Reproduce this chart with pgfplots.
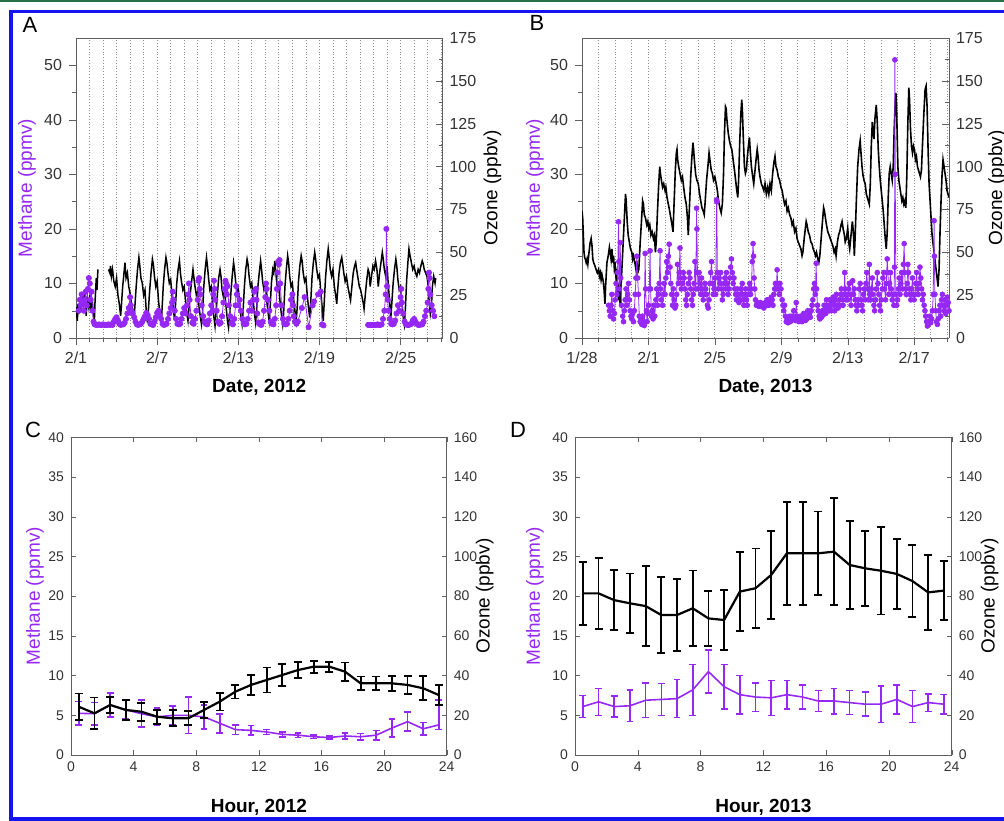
\documentclass[border=0pt]{standalone}
\usepackage{fontspec}
\setmainfont{Liberation Sans}
\usepackage{pgfplots}
\pgfplotsset{compat=1.18}
\definecolor{meth}{RGB}{150,40,245}
\definecolor{axgray}{RGB}{95,95,95}
\definecolor{framegreen}{RGB}{40,110,70}
\definecolor{frameblue}{RGB}{20,20,240}

\pgfplotsset{
  every axis/.append style={
    /pgf/number format/assume math mode=true,
    scale only axis,
    axis line style={axgray},
    tick style={axgray},
  },
  timeaxis/.style={
    width=183.25pt, height=150pt,
    tick label style={font=\fontsize{8}{9}\selectfont, black!80},
    label style={font=\fontsize{9.5}{11}\selectfont},
    unbounded coords=jump,
  },
  houraxis/.style={
    width=188pt, height=158.85pt,
    xmin=0, xmax=24,
    tick align=inside,
    major tick length=2.5pt,
    tick label style={font=\fontsize{7}{8}\selectfont, black!80},
    label style={font=\fontsize{9.5}{11}\selectfont},
  },
}

\begin{document}
\begin{tikzpicture}
\path[use as bounding box] (0pt,0pt) rectangle (502pt,-410pt);
\fill[framegreen] (0pt,0pt) rectangle (502pt,-1.1pt);
\draw[frameblue, line width=1.8pt] (5.5pt,-5.8pt) rectangle (510pt,-409.6pt);

% ---------------- panel A ----------------
\begin{axis}[timeaxis, at={(38pt,-169pt)}, anchor=south west,
  xmin=0, xmax=27.1, ymin=0, ymax=55,
  axis y line*=left, xtick pos=left, tick align=outside,
  major tick length=3.5pt, minor tick length=2pt,
  ytick={0,10,...,50}, minor ytick={5,15,...,45},
  xtick={0,6,12,18,24}, xticklabels={2/1,2/7,2/13,2/19,2/25},
  minor xtick={1,...,27},
  xmajorgrids, xminorgrids,
  grid style={densely dotted, black!45}, minor grid style={densely dotted, black!45},
  ylabel={\color{meth}Methane (ppmv)},
  ylabel style={at={(axis description cs:-0.1337,0.5)}, anchor=center},
  xlabel={\textbf{Date, 2012}},
  xlabel style={at={(axis description cs:0.5,-0.1633)}, anchor=center},
]
\end{axis}
\begin{axis}[timeaxis, at={(38pt,-169pt)}, anchor=south west,
  xmin=0, xmax=27.1, ymin=0, ymax=175,
  axis y line*=right, axis x line=none, tick align=inside,
  major tick length=3.5pt, minor tick length=2pt,
  ytick={0,25,...,175}, minor ytick={12.5,37.5,...,162.5},
  ylabel={Ozone (ppbv)},
  ylabel style={at={(axis description cs:1.1364,0.5)}, anchor=center},
]
\addplot[black, line width=0.75pt] coordinates {
(0,12) (0.05,18) (0.1,10) (0.15,20) (0.2,14) (0.3,22) (0.35,16) (0.45,25) (0.5,18) (0.6,27) (0.7,20) (0.75,13) (0.85,24) (0.95,18) (1.05,26) (1.1,15) (1.2,22) (1.3,12) (1.35,8) (1.4,20) (1.5,35) (1.55,28) (1.62,40) (1.7,nan)
(2.4,40) (2.5,38) (2.55,42) (2.62,36) (2.7,40) (2.8,33) (2.9,30) (3.0,35) (3.1,25) (3.2,20) (3.3,13) (3.35,18)
(3.45,30) (3.55,38) (3.62,44) (3.7,35) (3.8,38) (3.9,30) (4.0,26) (4.1,20) (4.2,15) (4.28,10) (4.35,18)
(4.45,30) (4.55,40) (4.65,47) (4.72,42) (4.8,35) (4.9,32) (5.0,25) (5.1,28) (5.2,15) (5.28,9) (5.35,16)
(5.45,28) (5.55,38) (5.65,46) (5.72,43) (5.8,36) (5.9,30) (6.0,33) (6.1,22) (6.2,14) (6.28,8) (6.35,15)
(6.45,30) (6.55,40) (6.65,47) (6.72,44) (6.8,38) (6.9,32) (7.0,34) (7.1,25) (7.2,17) (7.28,11) (7.35,18)
(7.45,32) (7.55,40) (7.65,45) (7.72,38) (7.8,33) (7.9,28) (8.0,30) (8.1,22) (8.2,14) (8.28,10) (8.35,17)
(8.45,26) (8.55,33) (8.65,40) (8.72,35) (8.8,30) (8.9,25) (9.0,27) (9.1,18) (9.2,12) (9.28,8) (9.35,14)
(9.45,30) (9.55,40) (9.65,47) (9.72,42) (9.8,35) (9.9,28) (10.0,30) (10.1,20) (10.2,12) (10.28,7) (10.35,14)
(10.45,25) (10.55,35) (10.65,40) (10.72,36) (10.8,28) (10.9,24) (11.0,27) (11.1,18) (11.2,10) (11.28,6) (11.35,12)
(11.45,26) (11.55,36) (11.65,44) (11.72,40) (11.8,33) (11.9,27) (12.0,29) (12.1,20) (12.2,12) (12.28,8) (12.35,15)
(12.45,30) (12.55,40) (12.65,46) (12.72,43) (12.8,36) (12.9,30) (13.0,32) (13.1,22) (13.2,14) (13.28,9) (13.35,16)
(13.45,30) (13.55,38) (13.65,45) (13.72,40) (13.8,33) (13.9,28) (14.0,31) (14.1,22) (14.2,15) (14.28,10) (14.35,17)
(14.45,32) (14.55,40) (14.62,38) (14.7,45) (14.8,36) (14.9,28) (15.0,30) (15.1,20) (15.2,13) (15.28,8) (15.35,14)
(15.45,30) (15.55,40) (15.65,48) (15.72,44) (15.8,36) (15.9,30) (16.0,32) (16.1,22) (16.2,15) (16.28,10) (16.35,17)
(16.45,33) (16.55,42) (16.65,48) (16.72,45) (16.8,38) (16.9,33) (17.0,35) (17.1,25) (17.2,17) (17.28,12) (17.35,20)
(17.45,35) (17.55,44) (17.65,50) (17.72,46) (17.8,40) (17.9,35) (18.0,37) (18.1,27) (18.2,18) (18.28,10) (18.35,20)
(18.45,35) (18.55,45) (18.65,52) (18.72,47) (18.8,40) (18.9,36) (19.0,40) (19.1,30) (19.2,25) (19.28,20) (19.35,28)
(19.45,38) (19.55,44) (19.65,47) (19.72,43) (19.8,38) (19.9,33) (20.0,36) (20.1,30) (20.2,26) (20.3,22) (20.4,30)
(20.5,38) (20.6,42) (20.68,44) (20.75,40) (20.85,35) (20.95,30) (21.05,28) (21.15,24) (21.25,20) (21.3,17) (21.4,26)
(21.5,34) (21.6,40) (21.68,38) (21.75,30) (21.85,36) (21.95,42) (22.05,40) (22.15,45) (22.25,40) (22.35,30) (22.45,38)
(22.55,44) (22.65,50) (22.72,46) (22.8,40) (22.9,36) (23.0,42) (23.1,30) (23.2,20) (23.28,12) (23.35,20)
(23.45,32) (23.55,40) (23.65,46) (23.72,42) (23.8,34) (23.9,28) (24.0,30) (24.1,20) (24.2,12) (24.28,8) (24.35,16)
(24.45,34) (24.55,45) (24.62,52) (24.7,48) (24.8,44) (24.9,40) (25.0,42) (25.1,38) (25.2,36) (25.3,40) (25.4,38) (25.5,42) (25.6,45) (25.68,43) (25.75,40) (25.85,38) (25.95,36) (26.05,30) (26.12,20) (26.2,14) (26.28,18) (26.35,30) (26.45,36) (26.55,32) (26.6,35)
};
\end{axis}
\begin{axis}[timeaxis, at={(38pt,-169pt)}, anchor=south west,
  xmin=0, xmax=27.1, ymin=0, ymax=55, hide axis]
\addplot[meth, line width=0.4pt, mark=*, mark size=1.3pt, mark options={fill=meth, draw=meth}] coordinates {
(0.2,5) (0.28,7) (0.35,6) (0.42,8) (0.5,6.5) (0.58,5) (0.65,7) (0.72,8.5) (0.8,6) (0.88,9) (0.95,11) (1.02,10) (1.08,7) (1.15,8.5) (1.22,5) (1.3,3) (1.38,2.5) (1.48,2.4) (1.6,2.4) (1.7,2.5) (1.8,2.4) (1.9,2.4) (2.0,2.5) (2.1,2.4) (2.2,2.4)
(2.3,2.4) (2.4,2.5) (2.5,2.4) (2.6,2.5) (2.7,2.4) (2.8,3.0) (2.9,3.5) (3.0,3.8) (3.1,3.2) (3.2,2.6) (3.3,2.4) (3.4,2.5) (3.5,2.5) (3.6,2.8) (3.7,3.5) (3.8,4.5) (3.9,5.5) (4.0,7.5) (4.05,6) (4.1,5) (4.2,4.5) (4.3,3.8) (4.4,3) (4.5,2.5) (4.6,2.4) (4.7,2.5) (4.8,2.6) (4.9,3) (5.0,3.5) (5.1,4) (5.2,4.6) (5.3,4.2) (5.4,3.5) (5.5,2.6) (5.6,2.5) (5.7,2.4) (5.8,3) (5.9,3.8) (6.0,4.6) (6.1,5) (6.2,4.2) (6.3,3.5) (6.4,2.6) (6.5,2.4) (6.6,2.5) (6.7,2.6) (6.8,3.5) (6.9,4.5) (7.0,5.5) (7.1,6.5) (7.15,8.5) (7.2,7) (7.3,5) (7.4,3.5) (7.5,2.6) (7.6,2.5) (7.7,2.6) (7.8,3.5) (7.9,4.5) (8.0,5.5) (8.1,4.5) (8.2,6) (8.3,8) (8.35,10) (8.4,7) (8.5,4) (8.6,2.8) (8.7,2.6) (8.8,3.5) (8.9,5) (9.0,7) (9.05,10.5) (9.1,11) (9.15,9) (9.2,8) (9.3,6) (9.4,4) (9.5,3) (9.6,2.6) (9.7,2.5) (9.8,3.2) (9.9,4.5) (10.0,6) (10.1,5) (10.15,8) (10.2,10.5) (10.25,9) (10.3,7) (10.4,5) (10.5,3) (10.6,2.6) (10.7,2.8) (10.8,4) (10.9,6.5) (11.0,9) (11.05,10.5) (11.1,10) (11.15,8) (11.2,9.5) (11.3,6) (11.4,4) (11.5,2.8) (11.6,2.5) (11.7,3.5) (11.8,6) (11.85,9.5) (11.9,8) (12.0,6) (12.1,7) (12.2,5) (12.3,3.5) (12.4,2.7) (12.5,2.5) (12.6,2.6) (12.7,3.5) (12.8,5) (12.9,6.5) (13.0,5) (13.1,7) (13.2,8.5) (13.3,9) (13.35,7) (13.4,4.5) (13.5,2.8) (13.6,2.5) (13.7,2.4) (13.8,3) (13.9,5) (14.0,7.5) (14.05,10) (14.1,9) (14.2,7) (14.3,5) (14.4,3) (14.5,2.6) (14.6,2.5) (14.7,3.5) (14.8,6) (14.85,9) (14.9,12) (14.95,14) (15.0,13.5) (15.05,14.3) (15.1,10) (15.2,6) (15.3,3.5) (15.4,2.6) (15.5,2.5) (15.6,2.6) (15.7,3.5) (15.8,5) (15.9,7) (16.0,8) (16.05,6) (16.1,4) (16.2,3) (16.3,2.6) (16.4,3)
(16.7,5.5) (16.9,7.5) (17.2,2.0) (17.5,6) (17.6,6.7) (17.9,8) (18.1,8.5) (18.2,2.5) (18.3,2.3) (19.0,nan)
(21.6,2.4) (21.7,2.4) (21.8,2.4) (21.9,2.4) (22.0,2.4) (22.1,2.4) (22.2,2.4) (22.3,2.5) (22.4,2.4) (22.5,2.4) (22.6,2.5) (22.7,3.5) (22.8,5) (22.9,8) (22.95,20) (23.0,9.5) (23.05,7) (23.1,5) (23.2,3.5) (23.3,2.6) (23.4,2.5) (23.5,2.6) (23.6,3.2) (23.7,4.5) (23.8,6) (23.9,5) (24.0,7.5) (24.05,9) (24.1,6.5) (24.2,4.5) (24.3,3) (24.4,2.5) (24.5,2.4) (24.6,2.4) (24.7,2.5) (24.8,2.6) (24.9,3.2) (25.0,3.5) (25.1,3) (25.2,2.6) (25.3,2.4) (25.4,2.4) (25.5,2.5) (25.6,2.5) (25.7,3) (25.8,4) (25.9,5) (26.0,6.5) (26.05,9) (26.1,12) (26.15,11) (26.2,8) (26.3,6) (26.4,5) (26.5,4)
};
\end{axis}

% ---------------- panel B ----------------
\begin{axis}[timeaxis, at={(291pt,-169pt)}, anchor=south west, width=183.5pt,
  xmin=0, xmax=22.1, ymin=0, ymax=55,
  axis y line*=left, xtick pos=left, tick align=outside,
  major tick length=3.5pt, minor tick length=2pt,
  ytick={0,10,...,50}, minor ytick={5,15,...,45},
  xtick={0,4,...,20}, xticklabels={1/28,2/1,2/5,2/9,2/13,2/17},
  minor xtick={1,...,22},
  xmajorgrids, xminorgrids,
  grid style={densely dotted, black!45}, minor grid style={densely dotted, black!45},
  ylabel={\color{meth}Methane (ppmv)},
  ylabel style={at={(axis description cs:-0.128,0.5)}, anchor=center},
  xlabel={\textbf{Date, 2013}},
  xlabel style={at={(axis description cs:0.5,-0.1633)}, anchor=center},
]
\end{axis}
\begin{axis}[timeaxis, at={(291pt,-169pt)}, anchor=south west, width=183.5pt,
  xmin=0, xmax=22.1, ymin=0, ymax=175,
  axis y line*=right, axis x line=none, tick align=inside,
  major tick length=3.5pt, minor tick length=2pt,
  ytick={0,25,...,175}, minor ytick={12.5,37.5,...,162.5},
  ylabel={Ozone (ppbv)},
  ylabel style={at={(axis description cs:1.131,0.5)}, anchor=center},
]
\addplot[black, line width=0.8pt] coordinates {
(0.00,74) (0.04,70) (0.08,60) (0.12,50) (0.16,47) (0.2,46) (0.25,44) (0.3,46) (0.35,43) (0.4,48) (0.48,55) (0.55,58) (0.6,54) (0.65,46) (0.7,44) (0.78,42) (0.85,40) (0.92,38) (1.0,40) (1.05,36) (1.1,38) (1.15,34) (1.2,37) (1.28,33) (1.33,28) (1.38,20) (1.42,30) (1.5,44) (1.58,48) (1.65,53) (1.7,50) (1.75,46) (1.8,52) (1.85,44) (1.9,48) (1.95,40) (2.0,42) (2.05,35) (2.1,38) (2.15,28) (2.2,22) (2.25,32) (2.3,18) (2.35,30) (2.45,50) (2.55,70) (2.62,84) (2.66,80) (2.72,68) (2.78,60) (2.85,56) (2.92,52) (3.0,50) (3.05,46) (3.1,48) (3.18,44) (3.25,40) (3.3,45) (3.35,38) (3.42,40) (3.5,55) (3.58,68) (3.65,80) (3.7,78) (3.75,72) (3.82,70) (3.9,66) (3.96,68) (4.02,64) (4.08,66) (4.15,60) (4.22,62) (4.3,58) (4.36,60) (4.42,50) (4.47,56) (4.55,75) (4.62,90) (4.68,100) (4.72,96) (4.78,92) (4.85,88) (4.92,90) (5.0,86) (5.05,88) (5.12,82) (5.2,78) (5.28,74) (5.35,70) (5.42,66) (5.48,62) (5.55,80) (5.62,98) (5.68,108) (5.72,110) (5.76,104) (5.82,100) (5.9,96) (5.98,92) (6.05,94) (6.12,88) (6.2,82) (6.28,78) (6.35,70) (6.4,60) (6.45,72) (6.55,95) (6.62,106) (6.68,114) (6.72,110) (6.78,102) (6.85,95) (6.92,92) (7.0,90) (7.08,84) (7.15,80) (7.22,76) (7.3,74) (7.36,72) (7.42,80) (7.5,92) (7.58,100) (7.65,108) (7.7,104) (7.78,98) (7.85,96) (7.92,92) (8.0,94) (8.08,90) (8.15,86) (8.22,80) (8.3,76) (8.38,73) (8.45,78) (8.52,95) (8.58,120) (8.64,135) (8.68,134) (8.72,128) (8.8,120) (8.88,115) (8.95,112) (9.02,110) (9.1,104) (9.18,98) (9.25,92) (9.32,86) (9.38,82) (9.43,92) (9.5,115) (9.56,130) (9.62,139) (9.66,132) (9.72,115) (9.78,100) (9.84,96) (9.9,98) (9.95,105) (10.02,112) (10.08,117) (10.14,108) (10.2,100) (10.28,94) (10.34,90) (10.4,96) (10.48,104) (10.55,110) (10.6,106) (10.66,98) (10.72,94) (10.8,90) (10.88,88) (10.95,86) (11.02,90) (11.1,84) (11.18,88) (11.25,84) (11.32,90) (11.4,86) (11.48,96) (11.55,102) (11.62,106) (11.68,100) (11.75,98) (11.82,94) (11.9,92) (11.98,88) (12.05,86) (12.12,82) (12.2,78) (12.28,80) (12.35,74) (12.42,76) (12.5,72) (12.58,70) (12.65,66) (12.72,68) (12.8,62) (12.88,64) (12.95,58) (13.02,56) (13.1,54) (13.18,52) (13.25,48) (13.3,50) (13.38,58) (13.45,64) (13.5,68) (13.55,66) (13.62,62) (13.7,60) (13.78,56) (13.85,55) (13.92,52) (14.0,50) (14.06,48) (14.12,50) (14.2,46) (14.26,44) (14.32,48) (14.4,58) (14.48,68) (14.55,76) (14.6,74) (14.66,70) (14.72,66) (14.8,62) (14.88,60) (14.95,58) (15.02,56) (15.1,54) (15.18,50) (15.25,52) (15.3,48) (15.38,56) (15.45,60) (15.52,62) (15.6,66) (15.66,68) (15.72,64) (15.8,60) (15.85,56) (15.92,58) (16.0,64) (16.06,56) (16.12,52) (16.2,60) (16.28,68) (16.34,62) (16.4,48) (16.45,60) (16.52,80) (16.6,100) (16.68,110) (16.75,115) (16.8,108) (16.86,100) (16.92,95) (16.98,92) (17.05,90) (17.12,84) (17.18,82) (17.24,80) (17.3,78) (17.36,90) (17.42,112) (17.48,126) (17.52,122) (17.58,116) (17.64,128) (17.72,136) (17.78,126) (17.84,110) (17.9,100) (17.96,92) (18.02,86) (18.08,80) (18.14,74) (18.2,66) (18.26,58) (18.32,52) (18.38,62) (18.44,82) (18.5,96) (18.56,100) (18.62,96) (18.68,92) (18.74,100) (18.8,122) (18.86,138) (18.9,143) (18.94,136) (18.98,118) (19.02,100) (19.08,92) (19.14,88) (19.2,84) (19.26,80) (19.32,82) (19.38,78) (19.44,80) (19.5,76) (19.56,95) (19.62,125) (19.68,146) (19.72,140) (19.78,122) (19.84,112) (19.9,108) (19.96,112) (20.02,110) (20.08,104) (20.14,106) (20.2,100) (20.26,98) (20.32,96) (20.38,94) (20.44,98) (20.5,112) (20.58,130) (20.66,145) (20.72,147) (20.78,135) (20.84,110) (20.9,90) (20.96,80) (21.02,70) (21.08,60) (21.14,55) (21.2,50) (21.26,45) (21.32,40) (21.38,35) (21.44,30) (21.5,40) (21.56,62) (21.62,80) (21.68,95) (21.74,104) (21.8,100) (21.86,96) (21.92,92) (21.98,86) (22.04,84) (22.1,82)
};
\end{axis}
\begin{axis}[timeaxis, at={(291pt,-169pt)}, anchor=south west, width=183.5pt,
  xmin=0, xmax=22.1, ymin=0, ymax=55, hide axis]
\addplot[meth, line width=0.4pt, mark=*, mark size=1.2pt, mark options={fill=meth, draw=meth}] coordinates {
(1.6,6) (1.65,5) (1.7,4) (1.75,6) (1.8,8) (1.85,5) (1.9,3.5) (1.95,4.5) (2.0,7) (2.05,10) (2.1,8) (2.15,12) (2.2,21.3) (2.22,14) (2.25,9) (2.3,17.5) (2.33,11) (2.38,6) (2.45,4) (2.5,3) (2.55,5) (2.6,7) (2.65,9) (2.7,6) (2.75,8) (2.8,10) (2.85,7) (2.9,5) (2.95,4) (3.0,3.5) (3.05,4.5) (3.1,3) (3.15,5) (3.2,8) (3.25,11) (3.3,15) (3.35,11) (3.4,8) (3.45,4) (3.5,3) (3.55,3.5) (3.6,2.5) (3.65,4) (3.7,3) (3.75,2.3) (3.8,15.5) (3.83,9) (3.88,5) (3.92,3) (3.96,4.5) (4.0,6) (4.05,9) (4.1,16) (4.13,9) (4.18,4) (4.22,5) (4.28,3.5) (4.32,6) (4.38,4) (4.45,7) (4.5,9) (4.55,6) (4.6,8) (4.65,10) (4.7,16) (4.73,9) (4.78,7) (4.85,6) (4.9,8) (4.95,10) (5.0,8) (5.05,11) (5.1,14) (5.15,12) (5.2,15) (5.25,17.2) (5.3,13) (5.35,10) (5.4,8) (5.45,6) (5.5,9) (5.55,7) (5.6,5.5) (5.65,6) (5.7,8) (5.75,13.5) (5.8,10) (5.85,12) (5.9,16.5) (5.93,11) (5.98,9) (6.05,10) (6.1,12) (6.15,11) (6.2,9) (6.25,7) (6.3,6) (6.35,8) (6.4,10) (6.45,12) (6.5,11) (6.55,9) (6.6,7) (6.65,6) (6.7,8) (6.75,10) (6.8,14) (6.85,9) (6.9,23.8) (6.92,20) (6.95,12) (7.0,9) (7.05,12) (7.1,10) (7.15,8) (7.2,11) (7.25,9) (7.3,7) (7.35,8) (7.4,10) (7.45,9) (7.5,8) (7.55,6) (7.6,5.5) (7.65,7) (7.7,10) (7.75,12) (7.8,14) (7.85,10) (7.9,8) (7.95,9) (8.0,11) (8.05,8) (8.1,25.3) (8.12,25) (8.15,12) (8.2,9) (8.25,11) (8.3,10) (8.35,12) (8.4,9) (8.45,7) (8.5,8) (8.55,10) (8.6,11) (8.65,9) (8.7,12) (8.75,10) (8.8,8) (8.85,9) (8.9,11) (8.95,13) (9.0,14.5) (9.05,12) (9.1,10) (9.15,11) (9.2,9) (9.25,8) (9.3,7) (9.35,9) (9.4,8) (9.45,6.5) (9.5,7) (9.55,9) (9.6,8) (9.65,10) (9.7,7) (9.75,6) (9.8,8) (9.85,9) (9.9,7) (9.95,6) (10.0,8) (10.05,9) (10.1,10) (10.15,8) (10.2,9) (10.25,14) (10.3,17.3) (10.33,15) (10.36,11) (10.4,9) (10.45,7) (10.5,6) (10.55,6.5) (10.6,6) (10.65,5.8) (10.7,6) (10.75,6.5) (10.8,5.8) (10.85,6) (10.9,6.2) (10.95,5.5) (11.0,6) (11.05,6.5) (11.1,6) (11.15,7) (11.2,6.5) (11.25,6) (11.3,7) (11.35,6.5) (11.4,7.5) (11.45,7) (11.5,6) (11.55,8) (11.6,9) (11.65,10) (11.7,9) (11.75,12.5) (11.78,10) (11.82,9) (11.88,8) (11.92,10) (11.98,9) (12.05,7) (12.1,6) (12.15,5) (12.2,6) (12.25,4) (12.3,3) (12.35,3.5) (12.4,2.8) (12.45,3.2) (12.5,4) (12.55,3) (12.6,3.5) (12.65,4) (12.7,3.5) (12.75,5) (12.8,3.8) (12.85,3.2) (12.9,6.5) (12.95,4) (13.0,3.5) (13.05,3) (13.1,3.5) (13.15,4) (13.2,3.2) (13.25,3) (13.3,3.5) (13.35,4.5) (13.4,3.8) (13.45,3.2) (13.5,4) (13.55,3.5) (13.6,5) (13.65,4) (13.7,4.5) (13.75,3.8) (13.8,5) (13.85,6) (13.9,7) (13.95,9) (14.0,10) (14.05,8) (14.1,13.7) (14.13,9) (14.18,6) (14.22,5) (14.28,4) (14.32,3.5) (14.38,4.5) (14.42,3.8) (14.48,5) (14.52,4.2) (14.58,6) (14.62,5) (14.68,4.5) (14.72,7) (14.78,5.5) (14.82,6) (14.88,5) (14.92,7) (14.98,6) (15.02,5) (15.08,6.5) (15.12,7.5) (15.18,6) (15.22,5) (15.28,7) (15.32,8) (15.38,6) (15.42,5.5) (15.48,7) (15.52,6) (15.58,8) (15.62,9) (15.68,7) (15.72,6) (15.78,8) (15.82,12) (15.85,9) (15.9,7) (15.95,8) (16.0,7) (16.05,9) (16.1,10) (16.15,8) (16.2,6) (16.25,8) (16.3,10.5) (16.35,8) (16.4,9) (16.45,7) (16.5,6) (16.55,5) (16.6,7) (16.65,6) (16.7,9) (16.75,10) (16.8,7) (16.85,6) (16.9,5) (16.95,8) (17.0,9) (17.05,7) (17.1,10) (17.15,12) (17.2,9) (17.25,7) (17.3,13.5) (17.33,8) (17.38,7) (17.42,9) (17.48,11) (17.52,8) (17.58,6) (17.62,5) (17.68,7) (17.72,9) (17.78,12) (17.82,10) (17.88,8) (17.92,6) (17.98,5) (18.02,7) (18.08,9) (18.12,11) (18.18,12) (18.22,9) (18.28,7) (18.32,10) (18.38,14.5) (18.42,12) (18.48,8) (18.52,10) (18.58,12) (18.62,9) (18.68,7) (18.72,8) (18.78,6) (18.82,13) (18.84,51) (18.86,30) (18.9,8) (18.95,6) (19.0,7) (19.05,9) (19.1,11) (19.15,8) (19.2,10) (19.25,12) (19.3,9) (19.35,13.5) (19.4,17.3) (19.43,12) (19.48,9) (19.52,8) (19.58,10) (19.62,13.5) (19.66,12) (19.7,9) (19.75,8) (19.8,7) (19.85,9) (19.9,11) (19.95,8) (20.0,7) (20.05,8) (20.1,10) (20.15,12) (20.2,9) (20.25,8) (20.3,10) (20.35,13) (20.4,11) (20.45,9) (20.5,7) (20.55,8) (20.6,6) (20.65,5) (20.7,4) (20.75,3) (20.8,2.2) (20.85,2.5) (20.9,3) (20.95,4) (21.0,2.8) (21.05,3.5) (21.1,5) (21.15,8) (21.2,21.5) (21.22,15) (21.25,8) (21.3,5) (21.35,3) (21.4,2.5) (21.45,3.5) (21.5,5) (21.55,6) (21.6,4) (21.65,7) (21.7,8) (21.75,6) (21.8,5) (21.85,7) (21.9,4.5) (21.95,6) (22.0,7.5) (22.05,6.5) (22.1,5)
};
\end{axis}

% ---------------- panel C ----------------
\begin{axis}[houraxis, at={(35.5pt,-377.5pt)}, anchor=south west, width=187.85pt,
  ymin=0, ymax=40, axis y line*=left,
  xtick={0,4,...,24}, ytick={0,5,...,40},
  ylabel={\color{meth}Methane (ppmv)},
  ylabel style={at={(axis description cs:-0.0958,0.5)}, anchor=center},
  xlabel={\textbf{Hour, 2012}},
  xlabel style={at={(axis description cs:0.5,-0.1637)}, anchor=center},
]
\addplot[meth, line width=0.8pt, mark=none,
  error bars/.cd, y dir=both, y explicit,
  error bar style={line width=0.8pt, meth},
  error mark options={rotate=90, mark size=1.7pt, line width=0.8pt, meth}]
coordinates {
(0.5,5.25) +- (0,1.5) (1.5,5.2) +- (0,1.4) (2.5,6.3) +- (0,1.5) (3.5,5.7) +- (0,1.2)
(4.5,5.2) +- (0,1.7) (5.5,4.8) +- (0,1.1) (6.5,5.0) +- (0,1.2) (7.5,5.0) +- (0,2.3)
(8.5,4.8) +- (0,1.5) (9.5,4.0) +- (0,1.2) (10.5,3.2) +- (0,0.6) (11.5,3.1) +- (0,0.6)
(12.5,2.9) +- (0,0.3) (13.5,2.6) +- (0,0.3) (14.5,2.5) +- (0,0.3) (15.5,2.3) +- (0,0.2)
(16.5,2.2) +- (0,0.2) (17.5,2.4) +- (0,0.4) (18.5,2.3) +- (0,0.4) (19.5,2.5) +- (0,0.6)
(20.5,3.4) +- (0,1.1) (21.5,4.2) +- (0,1.2) (22.5,3.3) +- (0,0.8) (23.5,3.8) += (0,3.1) -= (0,0.6)
};
\end{axis}
\begin{axis}[houraxis, at={(35.5pt,-377.5pt)}, anchor=south west, width=187.85pt,
  ymin=0, ymax=160, axis y line*=right, axis x line=none,
  ytick={0,20,...,160},
  ylabel={Ozone (ppbv)},
  ylabel style={at={(axis description cs:1.101,0.5)}, anchor=center},
]
\addplot[black, line width=1.1pt, mark=none,
  error bars/.cd, y dir=both, y explicit,
  error bar style={line width=0.9pt, black},
  error mark options={rotate=90, mark size=2pt, line width=0.9pt, black}]
coordinates {
(0.5,24.3) +- (0,6.7) (1.5,21.0) +- (0,8) (2.5,25.2) +- (0,4.2) (3.5,22.7) +- (0,5)
(4.5,21.8) +- (0,4.5) (5.5,19.3) +- (0,3.5) (6.5,18.5) +- (0,4) (7.5,18.5) +- (0,3.5)
(8.5,22.7) +- (0,4) (9.5,26.9) +- (0,4.5) (10.5,31.9) +- (0,3.4) (11.5,35.3) +- (0,5)
(12.5,37.8) +- (0,6.3) (13.5,40.3) +- (0,5.5) (14.5,42.8) +- (0,4.2) (15.5,44.5) +- (0,3)
(16.5,44.5) +- (0,2.5) (17.5,42.0) +- (0,4.6) (18.5,36.1) +- (0,3.4) (19.5,36.1) +- (0,3.4)
(20.5,36.1) +- (0,3.8) (21.5,35.3) +- (0,4.6) (22.5,33.6) +- (0,6) (23.5,30.2) +- (0,5)
};
\end{axis}

% ---------------- panel D ----------------
\begin{axis}[houraxis, at={(287.5pt,-377.5pt)}, anchor=south west, width=188.35pt,
  ymin=0, ymax=40, axis y line*=left,
  xtick={0,4,...,24}, ytick={0,5,...,40},
  ylabel={\color{meth}Methane (ppmv)},
  ylabel style={at={(axis description cs:-0.106,0.5)}, anchor=center},
  xlabel={\textbf{Hour, 2013}},
  xlabel style={at={(axis description cs:0.5,-0.1637)}, anchor=center},
]
\addplot[meth, line width=0.8pt, mark=none,
  error bars/.cd, y dir=both, y explicit,
  error bar style={line width=0.8pt, meth},
  error mark options={rotate=90, mark size=1.7pt, line width=0.8pt, meth}]
coordinates {
(0.5,6.1) +- (0,1.4) (1.5,6.7) +- (0,1.7) (2.5,6.1) +- (0,1.3) (3.5,6.2) +- (0,2.0)
(4.5,6.9) +- (0,2.2) (5.5,7.0) +- (0,2.0) (6.5,7.1) +- (0,2.4) (7.5,8.2) +- (0,3.2)
(8.5,10.5) +- (0,2.7) (9.5,8.6) +- (0,2.8) (10.5,7.6) +- (0,2.4) (11.5,7.3) +- (0,1.8)
(12.5,7.2) +- (0,2.2) (13.5,7.6) +- (0,1.8) (14.5,7.3) +- (0,1.5) (15.5,6.8) +- (0,1.3)
(16.5,6.8) +- (0,1.6) (17.5,6.6) +- (0,1.5) (18.5,6.4) +- (0,1.5) (19.5,6.4) +- (0,2.3)
(20.5,7.0) +- (0,1.8) (21.5,6.1) +- (0,2.0) (22.5,6.6) +- (0,1.1) (23.5,6.4) +- (0,1.2)
};
\end{axis}
\begin{axis}[houraxis, at={(287.5pt,-377.5pt)}, anchor=south west, width=188.35pt,
  ymin=0, ymax=160, axis y line*=right, axis x line=none,
  ytick={0,20,...,160},
  ylabel={Ozone (ppbv)},
  ylabel style={at={(axis description cs:1.101,0.5)}, anchor=center},
]
\addplot[black, line width=1.1pt, mark=none,
  error bars/.cd, y dir=both, y explicit,
  error bar style={line width=0.9pt, black},
  error mark options={rotate=90, mark size=2pt, line width=0.9pt, black}]
coordinates {
(0.5,81.4) +- (0,16) (1.5,81.4) +- (0,18) (2.5,78.0) +- (0,15) (3.5,76.4) +- (0,15)
(4.5,75.0) +- (0,20) (5.5,70.5) +- (0,19) (6.5,70.5) +- (0,18) (7.5,73.9) +- (0,19)
(8.5,68.8) +- (0,14) (9.5,68.0) +- (0,15) (10.5,82.3) +- (0,20) (11.5,84.0) +- (0,20)
(12.5,90.7) +- (0,22) (13.5,101.6) +- (0,26) (14.5,101.6) +- (0,26) (15.5,101.6) +- (0,21)
(16.5,102.4) +- (0,27) (17.5,95.7) +- (0,22) (18.5,94.0) +- (0,19) (19.5,92.8) +- (0,22)
(20.5,91.2) +- (0,17.6) (21.5,87.6) +- (0,18) (22.5,81.9) +- (0,19) (23.5,82.8) +- (0,15)
};
\end{axis}

\node[font=\fontsize{11}{13}\selectfont] at (15pt,-12.5pt) {A};
\node[font=\fontsize{11}{13}\selectfont] at (268.5pt,-11.5pt) {B};
\node[font=\fontsize{11}{13}\selectfont] at (16.5pt,-215pt) {C};
\node[font=\fontsize{11}{13}\selectfont] at (259pt,-215pt) {D};
\end{tikzpicture}
\end{document}
